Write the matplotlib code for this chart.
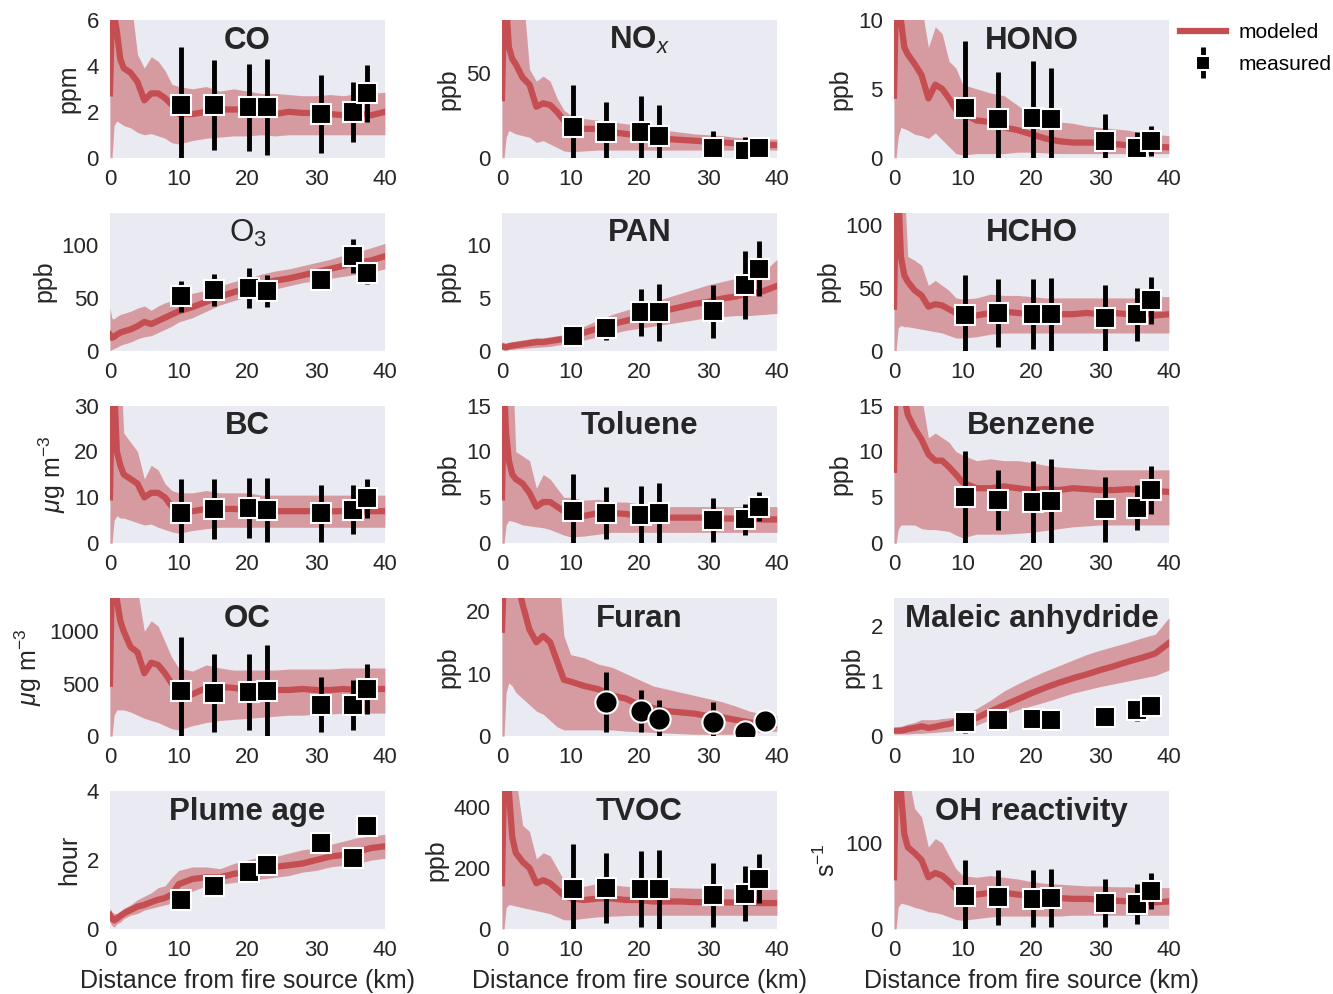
import matplotlib
matplotlib.use('Agg')
import matplotlib.pyplot as plt
from matplotlib.legend_handler import HandlerErrorbar
from matplotlib.container import ErrorbarContainer

plt.rcParams['font.family'] = ['Liberation Sans', 'DejaVu Sans']
plt.rcParams['mathtext.fontset'] = 'custom'
plt.rcParams['mathtext.rm'] = 'Liberation Sans'
plt.rcParams['mathtext.it'] = 'Liberation Sans:italic'
plt.rcParams['mathtext.bf'] = 'Liberation Sans:bold'

# distance grid of the model output (km)
x_model = [0, 0.3, 0.6, 1, 1.5, 2, 3, 4, 5, 6, 7, 8, 9, 10, 12, 14, 16, 18, 20,
           22, 24, 26, 28, 30, 32, 34, 36, 38, 40]
# flight transect distances (km)
x_meas = [10.3, 15.1, 20.2, 22.8, 30.7, 35.3, 37.4]
x_furan = [15.1, 20.2, 22.8, 30.7, 35.3, 38.3]

names = ['CO', r'$\mathbf{NO}_{\mathit{x}}$', 'HONO', r'$\mathrm{O}_3$', 'PAN', 'HCHO', 'BC',
         'Toluene', 'Benzene', 'OC', 'Furan', 'Maleic anhydride', 'Plume age', 'TVOC',
         'OH reactivity']
units = ['ppm', 'ppb', 'ppb', 'ppb', 'ppb', 'ppb', r'$\mu$g m$^{-3}$', 'ppb', 'ppb',
         r'$\mu$g m$^{-3}$', 'ppb', 'ppb', 'hour', 'ppb', 's$^{-1}$']
ymax = [6, 81, 10, 130, 13, 110, 30, 15, 15, 1314, 22, 2.5, 4, 452, 160]
yticks = [[0, 2, 4, 6], [0, 50], [0, 5, 10], [0, 50, 100], [0, 5, 10], [0, 50, 100],
          [0, 10, 20, 30], [0, 5, 10, 15], [0, 5, 10, 15], [0, 500, 1000],
          [0, 10, 20], [0, 1, 2], [0, 2, 4], [0, 200, 400], [0, 100]]

# modeled mean / lower / upper
co_mean = [2.8, 6.5, 6.2, 5.5, 4.3, 3.9, 3.7, 3.3, 2.5, 2.8, 2.8, 2.6, 2.3, 1.9, 1.9, 2.0, 2.1, 2.1, 2.1, 2.0, 1.9, 2.0, 1.95, 1.95, 1.9, 1.85, 1.95, 1.85, 2.0]
co_hi = [8, 8, 8, 8, 8, 8, 7.0, 4.5, 3.9, 4.4, 4.2, 3.8, 3.2, 3.1, 3.0, 3.1, 2.9, 3.0, 2.9, 2.8, 2.8, 2.75, 2.7, 2.7, 2.75, 2.7, 2.8, 2.8, 2.85]
co_lo = [0, 0, 1.4, 1.6, 1.5, 1.4, 1.3, 1.1, 1.0, 1.05, 0.95, 0.85, 0.65, 0.6, 0.75, 0.85, 0.9, 0.95, 0.95, 1.0, 0.95, 1.0, 1.0, 1.0, 1.0, 1.0, 1.0, 1.0, 1.0]

nox_mean = [35, 90, 90, 65, 58, 55, 47, 43, 30, 32, 31, 27, 22, 19, 17, 17, 15, 14, 13, 12, 11, 10.5, 10, 9.5, 9, 8.5, 8, 7.5, 7.5]
nox_hi = [100, 100, 100, 100, 100, 100, 100, 52, 45, 48, 45, 35, 28, 25, 23, 22, 21, 20, 19, 17, 16, 15, 14, 13.5, 13, 12, 11.5, 11, 11]
nox_lo = [0, 0, 12, 16, 15, 14, 13, 12, 9, 10, 8, 6, 4, 3.5, 4, 4.5, 4.5, 4.5, 4.5, 4.5, 4.5, 4.5, 4.5, 4.5, 4.5, 4.5, 4.5, 4.5, 4.5]

hono_mean = [4.5, 12, 12, 10, 8, 7.5, 6.8, 6.0, 4.3, 5.3, 5.0, 4.3, 3.5, 3.2, 2.7, 2.6, 2.2, 2.0, 1.7, 1.4, 1.2, 1.1, 1.1, 1.1, 1.0, 0.9, 0.85, 0.8, 0.75]
hono_hi = [13, 13, 13, 13, 13, 13, 13, 11, 8, 9.5, 9, 7, 6.5, 5.3, 5, 4.7, 4.5, 3.8, 3.0, 2.6, 2.6, 2.5, 2.3, 2.2, 2.1, 2.0, 1.8, 1.7, 1.6]
hono_lo = [0, 0, 1.5, 2.2, 2.1, 2.0, 1.7, 1.6, 1.4, 1.8, 1.3, 0.8, 0.3, 0.2, 0.3, 0.3, 0.3, 0.4, 0.4, 0.35, 0.3, 0.3, 0.3, 0.3, 0.3, 0.3, 0.3, 0.3, 0.3]

o3_mean = [15, 12, 13, 15, 17, 18, 20, 23, 27, 25, 28, 31, 34, 37, 41, 46, 51, 55, 59, 63, 66, 68, 71, 74, 77, 80, 83, 85, 89]
o3_hi = [40, 30, 30, 32, 34, 35, 37, 40, 42, 38, 42, 45, 47, 50, 54, 57, 61, 65, 68, 72, 75, 77, 80, 83, 86, 90, 93, 97, 101]
o3_lo = [0, 1, 2, 3, 5, 6, 8, 11, 13, 14, 17, 20, 23, 27, 31, 37, 43, 47, 51, 55, 58, 61, 64, 66, 68, 70, 72, 74, 77]

pan_mean = [0.4, 0.35, 0.3, 0.4, 0.45, 0.5, 0.6, 0.7, 0.8, 0.8, 0.9, 1.0, 1.1, 1.3, 1.7, 2.1, 2.5, 2.8, 3.1, 3.5, 3.8, 4.1, 4.4, 4.6, 4.9, 5.1, 5.4, 5.6, 6.1]
pan_hi = [0.8, 0.75, 0.7, 0.8, 0.85, 0.9, 1.0, 1.1, 1.2, 1.2, 1.3, 1.4, 1.5, 1.7, 2.3, 2.9, 3.4, 3.8, 4.2, 4.6, 5.0, 5.4, 5.8, 6.2, 6.5, 6.8, 7.0, 7.4, 8.6]
pan_lo = [0.1, 0.05, 0.05, 0.1, 0.1, 0.15, 0.2, 0.25, 0.3, 0.35, 0.4, 0.5, 0.6, 0.8, 1.0, 1.3, 1.6, 1.9, 2.1, 2.3, 2.5, 2.7, 2.9, 3.1, 3.2, 3.3, 3.3, 3.4, 3.5]

hcho_mean = [35, 130, 130, 75, 60, 55, 48, 44, 35, 37, 36, 33, 30, 28, 28, 30, 31, 30, 29, 30, 29, 29, 30, 29, 30, 29, 30, 28, 29]
hcho_hi = [130, 130, 130, 130, 130, 75, 72, 68, 52, 56, 52, 48, 42, 41, 42, 45, 44, 44, 43, 42, 42, 42, 42, 42, 42, 42, 42, 43, 43]
hcho_lo = [0, 0, 18, 20, 19, 19, 18, 17, 16, 15, 14, 12, 10, 10, 11, 13, 14, 14, 14, 14, 14, 14, 14, 14, 14, 14, 14, 14, 14]

bc_mean = [10, 35, 35, 20, 17, 15, 14, 13, 10, 11, 11, 10, 8, 7, 7, 7.5, 7.5, 7.5, 7.3, 7.0, 7.0, 7.0, 7.0, 7.0, 7.0, 7.0, 7.0, 7.0, 7.0]
bc_hi = [40, 40, 40, 40, 40, 24, 22, 20, 14, 17, 16, 13, 11.5, 11, 11, 11.5, 11, 11, 11, 10.5, 10.5, 10.5, 10.5, 10.5, 10.5, 10.5, 10.5, 10.5, 10.5]
bc_lo = [0, 0, 5, 6, 5.5, 5.5, 5, 4.5, 4, 4.2, 3.5, 3, 2.5, 2.2, 2.8, 3.2, 3.5, 3.5, 3.5, 3.5, 3.5, 3.5, 3.5, 3.5, 3.5, 3.5, 3.5, 3.5, 3.5]

tol_mean = [5, 17, 12, 9, 7.5, 7, 6.5, 5.5, 4, 4.5, 4.5, 4, 3.5, 3.2, 3, 3.3, 3.3, 3.2, 3.0, 3.0, 2.8, 2.8, 2.8, 2.8, 2.7, 2.7, 2.7, 2.6, 2.6]
tol_hi = [20, 20, 20, 20, 20, 10, 9.5, 9, 6, 7.5, 7, 6, 5, 5, 4.7, 4.8, 4.5, 4.5, 4.3, 4.1, 4.0, 4.0, 4.0, 4.0, 4.0, 4.0, 4.0, 4.0, 4.0]
tol_lo = [0, 0, 2, 2.5, 2.4, 2.3, 2, 1.9, 1.8, 1.7, 1.5, 1.2, 0.9, 0.7, 0.8, 1.0, 1.2, 1.2, 1.2, 1.2, 1.2, 1.2, 1.2, 1.2, 1.2, 1.2, 1.2, 1.2, 1.2]

benz_mean = [8, 20, 20, 18, 16, 14, 12.5, 11.3, 9.7, 9, 9, 8.3, 7.5, 6.6, 6.0, 6.0, 6.2, 6.0, 5.8, 5.9, 5.8, 6.0, 5.9, 5.8, 5.8, 5.9, 5.8, 5.7, 5.6]
benz_hi = [20, 20, 20, 20, 20, 20, 20, 16, 11.5, 12, 11.5, 11, 10, 9.6, 9, 9.2, 9, 9, 8.8, 8.5, 8.3, 8.2, 8.1, 8, 8, 8, 8, 8, 8]
benz_lo = [0, 0, 1.5, 2, 2, 2, 2, 1.6, 1.5, 1.5, 1.4, 1.3, 0.9, 0.6, 1.0, 1.0, 1.0, 1.1, 1.2, 1.4, 1.6, 1.8, 1.9, 2, 2, 2, 2, 2, 2]

oc_mean = [500, 1600, 1600, 1300, 1100, 1000, 850, 800, 600, 700, 680, 600, 500, 420, 400, 460, 470, 460, 440, 450, 440, 440, 450, 440, 440, 450, 440, 450, 450]
oc_hi = [1600, 1600, 1600, 1600, 1600, 1600, 1600, 1400, 1000, 1100, 1050, 900, 750, 650, 620, 680, 650, 630, 630, 630, 630, 640, 640, 640, 640, 650, 650, 650, 650]
oc_lo = [0, 0, 200, 250, 250, 250, 230, 200, 170, 150, 130, 100, 70, 60, 100, 130, 150, 160, 170, 180, 190, 200, 200, 210, 210, 220, 220, 220, 220]

furan_mean = [17, 26, 26, 26, 26, 26, 21, 17, 15, 16, 15, 12, 9, 8.7, 8, 7.5, 6.5, 6, 5, 4.5, 4, 3.8, 3.6, 3.2, 3.0, 2.6, 2.2, 2.0, 1.8]
furan_hi = [30, 30, 30, 30, 30, 30, 30, 30, 30, 30, 30, 30, 16, 13, 12.5, 11.5, 11, 10, 9, 8, 7.5, 7, 6.5, 6, 5.5, 4.8, 4, 3.5, 3.3]
furan_lo = [0, 0, 7, 8.5, 8, 7, 6, 5, 4, 3.5, 2.5, 1.5, 1, 1, 1, 1, 1, 0.8, 0.7, 0.6, 0.5, 0.4, 0.3, 0.3, 0.3, 0.3, 0.5, 0.7, 0.8]

mal_mean = [0.1, 0.1, 0.1, 0.1, 0.11, 0.13, 0.15, 0.18, 0.15, 0.17, 0.2, 0.22, 0.26, 0.3, 0.33, 0.45, 0.56, 0.67, 0.78, 0.88, 0.97, 1.05, 1.12, 1.2, 1.27, 1.35, 1.42, 1.5, 1.69]
mal_hi = [0.15, 0.16, 0.17, 0.18, 0.2, 0.22, 0.25, 0.3, 0.3, 0.3, 0.32, 0.33, 0.35, 0.38, 0.5, 0.65, 0.82, 0.95, 1.07, 1.18, 1.28, 1.38, 1.48, 1.56, 1.63, 1.7, 1.78, 1.85, 2.15]
mal_lo = [0.04, 0.04, 0.04, 0.04, 0.04, 0.04, 0.05, 0.05, 0.06, 0.07, 0.08, 0.09, 0.1, 0.12, 0.2, 0.3, 0.4, 0.48, 0.55, 0.62, 0.7, 0.78, 0.84, 0.9, 0.95, 1.0, 1.05, 1.1, 1.2]

age_mean = [0.4, 0.3, 0.25, 0.3, 0.38, 0.45, 0.55, 0.65, 0.7, 0.78, 0.85, 0.9, 1.0, 1.3, 1.45, 1.5, 1.5, 1.6, 1.65, 1.72, 1.8, 1.85, 1.9, 2.0, 2.1, 2.15, 2.25, 2.35, 2.4]
age_hi = [0.6, 0.5, 0.45, 0.45, 0.5, 0.6, 0.7, 0.85, 0.95, 1.05, 1.2, 1.25, 1.5, 1.7, 1.8, 1.8, 1.75, 1.9, 2.0, 2.1, 2.1, 2.2, 2.3, 2.35, 2.45, 2.55, 2.65, 2.7, 2.75]
age_lo = [0.2, 0.1, 0.05, 0.15, 0.2, 0.3, 0.4, 0.45, 0.55, 0.6, 0.65, 0.7, 0.75, 0.9, 1.1, 1.25, 1.3, 1.35, 1.4, 1.45, 1.5, 1.55, 1.65, 1.7, 1.8, 1.85, 1.9, 2.0, 2.05]

tvoc_mean = [150, 500, 500, 450, 300, 250, 220, 200, 150, 160, 150, 130, 110, 100, 95, 100, 100, 95, 95, 90, 90, 90, 88, 88, 87, 87, 86, 85, 85]
tvoc_hi = [500, 500, 500, 500, 500, 500, 340, 320, 230, 250, 240, 200, 160, 150, 140, 150, 145, 140, 140, 138, 136, 135, 134, 133, 132, 131, 130, 130, 130]
tvoc_lo = [0, 0, 70, 80, 78, 75, 70, 65, 60, 55, 50, 40, 30, 30, 35, 40, 42, 44, 45, 45, 45, 45, 45, 45, 45, 45, 45, 45, 45]

oh_mean = [60, 180, 180, 160, 110, 95, 88, 80, 60, 65, 62, 55, 47, 42, 40, 42, 42, 40, 38, 37, 36, 35, 35, 34, 33, 32, 32, 31, 32]
oh_hi = [180, 180, 180, 180, 180, 180, 140, 130, 95, 105, 100, 85, 70, 62, 60, 62, 60, 58, 55, 53, 52, 51, 50, 50, 49, 49, 48, 48, 48]
oh_lo = [0, 0, 25, 30, 29, 28, 25, 23, 20, 19, 17, 14, 11, 10, 12, 14, 15, 15, 15, 15, 15, 16, 16, 16, 16, 16, 16, 16, 16]

model_mean = [co_mean, nox_mean, hono_mean, o3_mean, pan_mean, hcho_mean, bc_mean, tol_mean,
              benz_mean, oc_mean, furan_mean, mal_mean, age_mean, tvoc_mean, oh_mean]
model_hi = [co_hi, nox_hi, hono_hi, o3_hi, pan_hi, hcho_hi, bc_hi, tol_hi,
            benz_hi, oc_hi, furan_hi, mal_hi, age_hi, tvoc_hi, oh_hi]
model_lo = [co_lo, nox_lo, hono_lo, o3_lo, pan_lo, hcho_lo, bc_lo, tol_lo,
            benz_lo, oc_lo, furan_lo, mal_lo, age_lo, tvoc_lo, oh_lo]

# measured mean and 1-sigma
meas_y = [[2.3, 2.3, 2.2, 2.2, 1.9, 2.0, 2.8],
          [18, 15, 15, 13, 6, 4, 6],
          [3.6, 2.8, 2.9, 2.8, 1.2, 0.7, 1.2],
          [51, 57, 59, 56, 67, 89, 73],
          [1.4, 2.1, 3.6, 3.6, 3.7, 6.2, 7.7],
          [28, 30, 29, 29, 26, 29, 40],
          [6.7, 7.4, 7.7, 7.3, 6.5, 7.3, 9.8],
          [3.5, 3.3, 3.1, 3.3, 2.5, 2.6, 4.0],
          [5.0, 4.7, 4.5, 4.6, 3.7, 3.9, 5.8],
          [430, 410, 420, 430, 300, 300, 450],
          [5.5, 4.0, 2.7, 2.2, 0.6, 2.5],
          [0.25, 0.3, 0.32, 0.3, 0.34, 0.48, 0.55],
          [0.85, 1.25, 1.65, 1.85, 2.5, 2.05, 3.0],
          [130, 135, 130, 130, 110, 115, 165],
          [38, 37, 35, 36, 30, 29, 44]]
meas_err = [[2.5, 1.95, 1.9, 2.1, 1.7, 1.3, 1.25],
            [25, 18, 21, 18, 10, 8, 3],
            [4.9, 3.4, 4.1, 3.7, 2.0, 1.2, 1.1],
            [15, 15, 19, 15, 0, 16, 10],
            [0.3, 1.1, 2.2, 2.7, 2.5, 3.2, 2.6],
            [32, 27, 28, 29, 26, 21, 19],
            [7.3, 6.5, 6.6, 7.0, 6.1, 5.3, 4.2],
            [4.0, 2.8, 3.1, 3.3, 2.4, 1.7, 1.6],
            [5.0, 3.3, 4.5, 4.6, 3.5, 2.5, 2.6],
            [520, 370, 360, 440, 260, 240, 240],
            [4.8, 3.3, 3.1, 3.3, 0, 0],
            [0.2, 0.15, 0.15, 0.15, 0.15, 0.2, 0.12],
            [0, 0, 0, 0, 0, 0, 0],
            [150, 115, 125, 130, 105, 90, 80],
            [42, 32, 33, 34, 28, 23, 21]]

red = '#C44E52'
fig, axes = plt.subplots(5, 3, figsize=(13.33, 9.94), dpi=100)
fig.subplots_adjust(left=0.0825, right=0.877, top=0.98, bottom=0.0654,
                    wspace=0.4255, hspace=0.3986)

for i, ax in enumerate(axes.flat):
    ax.set_facecolor('#EAEAF2')
    for s in ax.spines.values():
        s.set_visible(False)
    ax.fill_between(x_model, model_lo[i], model_hi[i], color=red, alpha=0.5, lw=0)
    ax.plot(x_model, model_mean[i], color=red, lw=4.5, label='modeled')
    if i == 10:
        xm, fmt, ms = x_furan, 'o', 16
    else:
        xm, fmt, ms = x_meas, 's', 15
    ax.errorbar(xm, meas_y[i], yerr=meas_err[i], fmt=fmt, color='k', ms=ms,
                mec='white', mew=1.5, elinewidth=3.5, capsize=0, zorder=5,
                label='measured')
    ax.set_xlim(0, 40)
    ax.set_ylim(0, ymax[i])
    ax.set_xticks([0, 10, 20, 30, 40])
    ax.set_yticks(yticks[i])
    ax.tick_params(length=0, pad=8, labelsize=16, colors='#262626')
    ax.set_ylabel(units[i], fontsize=18, color='#262626')
    ax.text(0.5, 0.85, names[i], transform=ax.transAxes, ha='center', va='center',
            fontsize=22.5, fontweight='bold', color='#262626')
    if i >= 12:
        ax.set_xlabel('Distance from fire source (km)', fontsize=18, color='#262626',
                      labelpad=6)

h, l = axes[0, 2].get_legend_handles_labels()
fig.legend(h, l, loc='upper left', bbox_to_anchor=(0.876, 0.989), frameon=False,
           fontsize=15, handlelength=2.2, handletextpad=0.6, borderaxespad=0.2,
           markerscale=0.7, labelspacing=0.6,
           handler_map={ErrorbarContainer: HandlerErrorbar(yerr_size=0.75)})

fig.savefig('out.png', dpi=100)
